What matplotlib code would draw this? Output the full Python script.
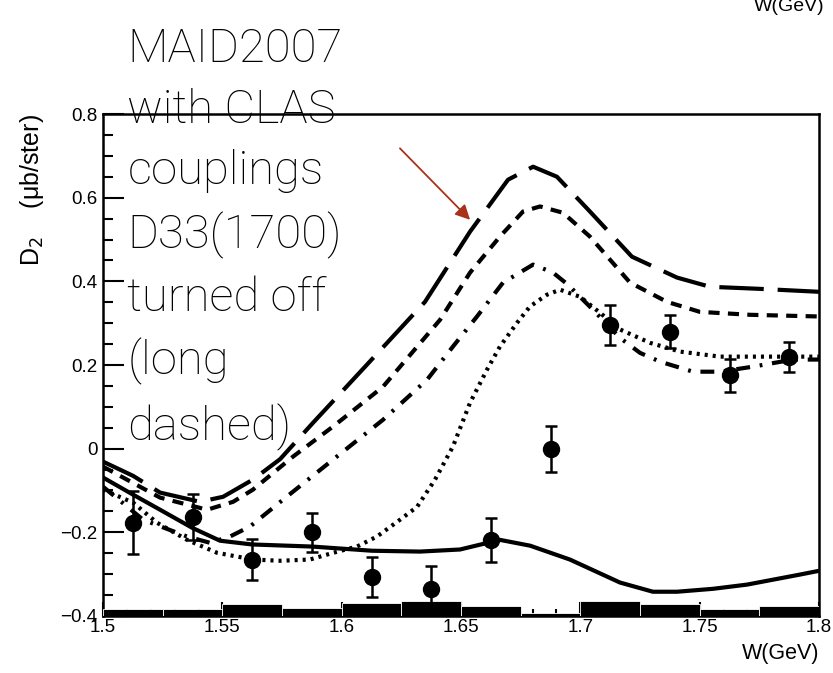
import numpy as np
import matplotlib
matplotlib.use("Agg")
import matplotlib.pyplot as plt

plt.rcParams['lines.scale_dashes'] = False

# measured D2 points (W in GeV, D2 in ub/ster)
w_data = [1.5125, 1.5375, 1.5625, 1.5875, 1.6125, 1.6375,
          1.6625, 1.6875, 1.7125, 1.7375, 1.7625, 1.7875]
d2_data = [-0.177, -0.163, -0.265, -0.200, -0.306, -0.335,
           -0.218, 0.000, 0.296, 0.280, 0.175, 0.220]
d2_err = [0.075, 0.055, 0.050, 0.047, 0.048, 0.055,
          0.052, 0.055, 0.047, 0.040, 0.040, 0.036]

# systematic band along the bottom
sys_edges = [1.5, 1.525, 1.55, 1.575, 1.6, 1.625, 1.65,
             1.675, 1.7, 1.725, 1.75, 1.775, 1.8]
sys_height = [0.017, 0.017, 0.029, 0.020, 0.031, 0.036,
              0.024, 0.007, 0.036, 0.029, 0.017, 0.024]

# model curves
w_solid = [1.5, 1.5126, 1.5239, 1.5373, 1.549, 1.5624, 1.5876, 1.6127, 1.6328,
           1.6496, 1.6663, 1.679, 1.6956, 1.7166, 1.7304, 1.7405, 1.7556,
           1.7698, 1.792, 1.8]
d2_solid = [-0.069, -0.110, -0.146, -0.189, -0.220, -0.229, -0.234, -0.244, -0.246,
            -0.241, -0.218, -0.232, -0.265, -0.320, -0.342, -0.342, -0.335,
            -0.325, -0.301, -0.292]

w_long = [1.5, 1.5126, 1.5239, 1.5406, 1.5503, 1.5628, 1.5742, 1.588, 1.6098,
          1.6349, 1.6538, 1.6697, 1.6802, 1.6902, 1.704, 1.7216, 1.7405,
          1.7543, 1.7753, 1.8]
d2_long = [-0.031, -0.065, -0.105, -0.127, -0.115, -0.074, -0.025, 0.062, 0.196,
           0.351, 0.519, 0.643, 0.674, 0.650, 0.567, 0.459, 0.409,
           0.387, 0.382, 0.375]

w_short = [1.5, 1.5239, 1.5436, 1.5545, 1.5628, 1.5796, 1.5964, 1.6173, 1.6412,
           1.6538, 1.6663, 1.676, 1.6831, 1.6927, 1.704, 1.7208, 1.7363,
           1.7501, 1.7711, 1.8]
d2_short = [-0.043, -0.117, -0.146, -0.127, -0.098, -0.019, 0.053, 0.148, 0.308,
            0.421, 0.507, 0.567, 0.579, 0.564, 0.507, 0.397, 0.351,
            0.327, 0.320, 0.316]

w_dashdot = [1.5, 1.5168, 1.5352, 1.5448, 1.5532, 1.5616, 1.5754, 1.5964, 1.6173,
             1.6358, 1.6466, 1.6567, 1.6676, 1.6802, 1.6885, 1.6948, 1.7053,
             1.7166, 1.725, 1.7334, 1.7472, 1.7585, 1.7723, 1.7891, 1.8]
d2_dashdot = [-0.091, -0.170, -0.210, -0.225, -0.210, -0.186, -0.122, -0.026, 0.069,
              0.165, 0.244, 0.316, 0.397, 0.440, 0.421, 0.392, 0.332,
              0.265, 0.229, 0.208, 0.184, 0.184, 0.196, 0.213, 0.213]

w_dot = [1.5, 1.5126, 1.5226, 1.5352, 1.5478, 1.5628, 1.5742, 1.5867, 1.5964,
         1.6064, 1.6148, 1.6244, 1.6316, 1.6391, 1.6466, 1.6538, 1.6609,
         1.6663, 1.6735, 1.6789, 1.686, 1.6915, 1.6999, 1.7082, 1.7166,
         1.7292, 1.7418, 1.7585, 1.8]
d2_dot = [-0.098, -0.129, -0.177, -0.218, -0.249, -0.265, -0.268, -0.265, -0.249,
          -0.234, -0.210, -0.170, -0.139, -0.074, 0.005, 0.110, 0.189,
          0.244, 0.301, 0.340, 0.368, 0.380, 0.363, 0.325, 0.285,
          0.253, 0.232, 0.220, 0.220]

note_lines = ["MAID2007", "with CLAS", "couplings", "D33(1700)",
              "turned off", "(long", "dashed)"]

fig = plt.figure(figsize=(8.33, 6.73), dpi=100)
ax = fig.add_axes([0.1237, 0.0847, 0.8595, 0.7459])

lw = 3.0
ax.plot(w_solid, d2_solid, color='k', lw=lw, solid_capstyle='butt')
ax.plot(w_long, d2_long, color='k', lw=lw, linestyle=(0, (32, 10)), dash_capstyle='butt')
ax.plot(w_short, d2_short, color='k', lw=lw, linestyle=(0, (8, 6)), dash_capstyle='butt')
ax.plot(w_dashdot, d2_dashdot, color='k', lw=lw, linestyle=(0, (10, 7, 2, 7)), dash_capstyle='butt')
ax.plot(w_dot, d2_dot, color='k', lw=lw, linestyle=(0, (2.2, 3.6)), dash_capstyle='butt')

ax.errorbar(w_data, d2_data, yerr=d2_err, fmt='o', color='k', ms=11.5,
            elinewidth=1.8, capsize=4, capthick=1.8, zorder=5)

# systematic uncertainty histogram sitting on the lower axis
edges = np.array(sys_edges)
ax.bar(edges[:-1], sys_height, width=np.diff(edges), bottom=-0.4, align='edge',
       color='k', edgecolor='white', linewidth=0.6, zorder=3)

ax.set_xlim(1.5, 1.8)
ax.set_ylim(-0.4, 0.8)
ax.set_xticks(np.arange(1.5, 1.8001, 0.05))
ax.set_xticks(np.arange(1.5, 1.8001, 0.01), minor=True)
ax.set_yticks(np.arange(-0.4, 0.8001, 0.2))
ax.set_yticks(np.arange(-0.4, 0.8001, 0.05), minor=True)
ax.set_xticklabels(['1.5', '1.55', '1.6', '1.65', '1.7', '1.75', '1.8'])
ax.set_yticklabels(['\u22120.4', '\u22120.2', '0', '0.2', '0.4', '0.6', '0.8'])
ax.tick_params(which='both', direction='in', top=False, right=False,
               labelsize=13.5, width=1.5, color='k')
ax.tick_params(axis='y', which='major', length=15, pad=4)
ax.tick_params(axis='y', which='minor', length=7)
ax.tick_params(axis='x', which='major', length=10, pad=2)
ax.tick_params(axis='x', which='minor', length=5)
for lab in ax.get_xticklabels() + ax.get_yticklabels():
    lab.set_family('Liberation Sans')
for sp in ax.spines.values():
    sp.set_linewidth(1.8)

ax.set_xlabel('W(GeV)', fontsize=15.5, family='Liberation Sans', loc='right', labelpad=5)
ax.set_ylabel('D$_2$    (\u03bcb/ster)', fontsize=18, family='Liberation Sans', loc='top', labelpad=10)

# stray axis title at the very top edge
fig.text(0.948, 0.99, 'W(GeV)', fontsize=14, family='Liberation Sans', ha='center', va='center')

fig.text(0.153, 0.96, '\n'.join(note_lines), fontsize=34, family='Roboto', fontweight='light',
         ha='left', va='top', linespacing=1.49, color='k')

ax.annotate('', xy=(1.6538, 0.547), xytext=(1.6244, 0.718),
            arrowprops=dict(arrowstyle='-|>', color='#a8321a', lw=1.3,
                            mutation_scale=22, shrinkA=0, shrinkB=0))

fig.savefig('out.png', dpi=100)
